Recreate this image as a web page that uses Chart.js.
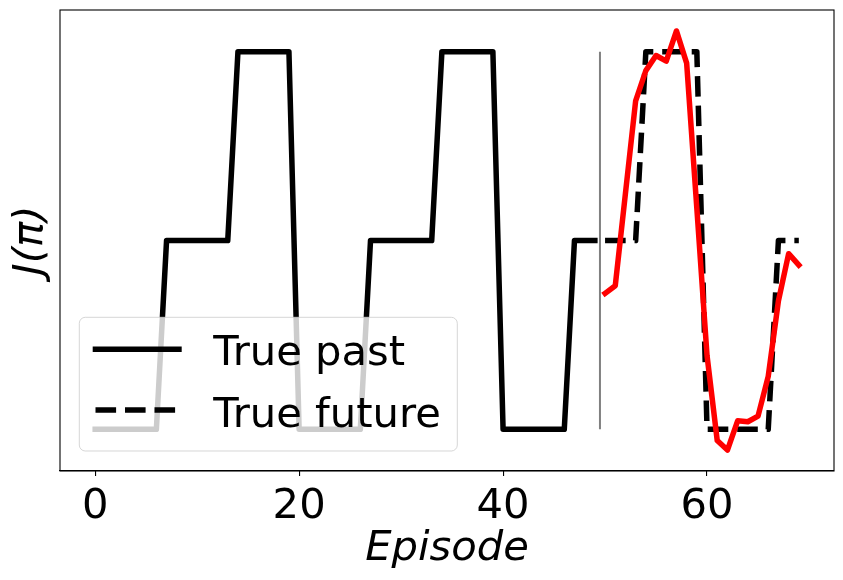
<!DOCTYPE html>
<html>
<head>
<meta charset="utf-8">
<script src="https://cdn.jsdelivr.net/npm/chart.js@4/dist/chart.umd.min.js"></script>
<style>
  html, body { margin: 0; padding: 0; background: #ffffff; }
  canvas { display: block; }
</style>
</head>
<body>
<canvas id="c" width="843" height="580"></canvas>
<script>
// ---- data ----
const pastEpisodes = [0,1,2,3,4,5,6,7,8,9,10,11,12,13,14,15,16,17,18,19,20,21,22,23,24,25,26,27,28,29,30,31,32,33,34,35,36,37,38,39,40,41,42,43,44,45,46,47,48,49];
const pastValues   = [0,0,0,0,0,0,0, 1,1,1,1,1,1,1, 2,2,2,2,2,2, 0,0,0,0,0,0,0, 1,1,1,1,1,1,1, 2,2,2,2,2,2, 0,0,0,0,0,0,0, 1,1,1];
const futureEpisodes = [50,51,52,53,54,55,56,57,58,59,60,61,62,63,64,65,66,67,68,69];
const futureValues   = [1,1,1,1, 2,2,2,2,2,2, 0,0,0,0,0,0,0, 1,1,1];
const predictedValues = [0.72,0.76,1.25,1.74,1.90,1.98,1.95,2.11,1.94,1.17,0.39,-0.06,-0.11,0.045,0.04,0.07,0.28,0.68,0.93,0.87];
const splitEpisode = 49.5;
const splitRange = [0, 2];
const xTicks = [0, 20, 40, 60];
const legendLabels = ["True past", "True future"];
const xTitle = "Episode";
const yTitle = "J(π)";

const toPoints = (xs, ys) => xs.map((x, i) => ({x: x, y: ys[i]}));

const FONT = "'DejaVu Sans', 'Liberation Sans', sans-serif";
const FSIZE = 41.7;

// plugin: frame + in-axes legend (matplotlib style)
const framePlugin = {
  id: 'frameAndLegend',
  afterDatasetsDraw(chart) {
    const ctx = chart.ctx;
    const a = chart.chartArea;
    ctx.save();
    // legend
    const lx = a.left + 19.3, ly = a.top + 307.3, lw = 378, lh = 133.7, r = 6;
    ctx.beginPath();
    ctx.moveTo(lx + r, ly);
    ctx.arcTo(lx + lw, ly, lx + lw, ly + lh, r);
    ctx.arcTo(lx + lw, ly + lh, lx, ly + lh, r);
    ctx.arcTo(lx, ly + lh, lx, ly, r);
    ctx.arcTo(lx, ly, lx + lw, ly, r);
    ctx.closePath();
    ctx.fillStyle = 'rgba(255,255,255,0.8)';
    ctx.fill();
    ctx.lineWidth = 1;
    ctx.strokeStyle = 'rgba(204,204,204,0.8)';
    ctx.stroke();

    const hx0 = a.left + 35.5, hx1 = a.left + 118.9;
    // solid handle
    ctx.beginPath();
    ctx.setLineDash([]);
    ctx.lineCap = 'butt';
    ctx.lineWidth = 5.5;
    ctx.strokeStyle = '#000000';
    ctx.moveTo(hx0 - 2.8, a.top + 339.3);
    ctx.lineTo(hx1 + 2.8, a.top + 339.3);
    ctx.stroke();
    // dashed handle
    ctx.beginPath();
    ctx.setLineDash([20.6, 8.9]);
    ctx.moveTo(hx0, a.top + 400);
    ctx.lineTo(hx1, a.top + 400);
    ctx.stroke();
    ctx.setLineDash([]);

    ctx.fillStyle = '#000000';
    ctx.font = FSIZE + 'px ' + FONT;
    ctx.textBaseline = 'alphabetic';
    ctx.textAlign = 'left';
    ctx.fillText(legendLabels[0], a.left + 153.3, a.top + 355);
    ctx.fillText(legendLabels[1], a.left + 153.3, a.top + 416.7);

    // frame
    ctx.lineWidth = 1.1;
    ctx.strokeStyle = '#000000';
    ctx.strokeRect(a.left, a.top, a.right - a.left, a.bottom - a.top);
    ctx.restore();
  }
};

new Chart(document.getElementById('c'), {
  type: 'line',
  data: {
    datasets: [
      {
        label: 'Predicted',
        data: toPoints(futureEpisodes, predictedValues),
        borderColor: '#ff0000',
        borderWidth: 5.5,
        borderCapStyle: 'square',
        borderJoinStyle: 'round',
        pointRadius: 0,
        fill: false,
        tension: 0,
        order: 0
      },
      {
        label: legendLabels[0],
        data: toPoints(pastEpisodes, pastValues),
        borderColor: '#000000',
        borderWidth: 5.5,
        borderCapStyle: 'square',
        borderJoinStyle: 'round',
        pointRadius: 0,
        fill: false,
        tension: 0,
        order: 2
      },
      {
        label: legendLabels[1],
        data: toPoints(futureEpisodes, futureValues),
        borderColor: '#000000',
        borderWidth: 5.5,
        borderDash: [20.6, 8.9],
        borderCapStyle: 'butt',
        borderJoinStyle: 'round',
        pointRadius: 0,
        fill: false,
        tension: 0,
        order: 1
      },
      {
        label: 'split',
        data: [{x: splitEpisode, y: splitRange[0]}, {x: splitEpisode, y: splitRange[1]}],
        borderColor: '#808080',
        borderWidth: 2,
        pointRadius: 0,
        fill: false,
        order: 3
      }
    ]
  },
  options: {
    responsive: false,
    animation: false,
    devicePixelRatio: 1,
    layout: { padding: { top: 10, right: 9, left: 0, bottom: 0 } },
    plugins: {
      legend: { display: false },
      tooltip: { enabled: false }
    },
    scales: {
      x: {
        type: 'linear',
        min: -3.45,
        max: 72.45,
        afterFit(scale) { scale.height = 109; },
        afterBuildTicks(scale) { scale.ticks = xTicks.map(v => ({value: v})); },
        ticks: {
          stepSize: 20,
          includeBounds: false,
          autoSkip: false,
          maxRotation: 0,
          padding: 6,
          color: '#000000',
          font: { family: FONT, size: FSIZE }
        },
        grid: {
          display: true,
          drawOnChartArea: false,
          drawTicks: true,
          tickLength: 5,
          color: '#000000',
          lineWidth: 1.1
        },
        border: { display: true, color: '#000000', width: 1.1 },
        title: {
          display: true,
          text: xTitle,
          color: '#000000',
          font: { family: FONT, size: FSIZE, style: 'italic' },
          padding: { top: 0, bottom: 6 }
        }
      },
      y: {
        type: 'linear',
        min: -0.221,
        max: 2.221,
        afterFit(scale) { scale.width = 60; },
        ticks: { display: false },
        grid: { display: false },
        border: { display: false },
        title: {
          display: true,
          text: yTitle,
          color: '#000000',
          font: { family: FONT, size: FSIZE, style: 'italic' },
          padding: { top: 6, bottom: 0 }
        }
      }
    }
  },
  plugins: [framePlugin]
});
</script>
</body>
</html>
